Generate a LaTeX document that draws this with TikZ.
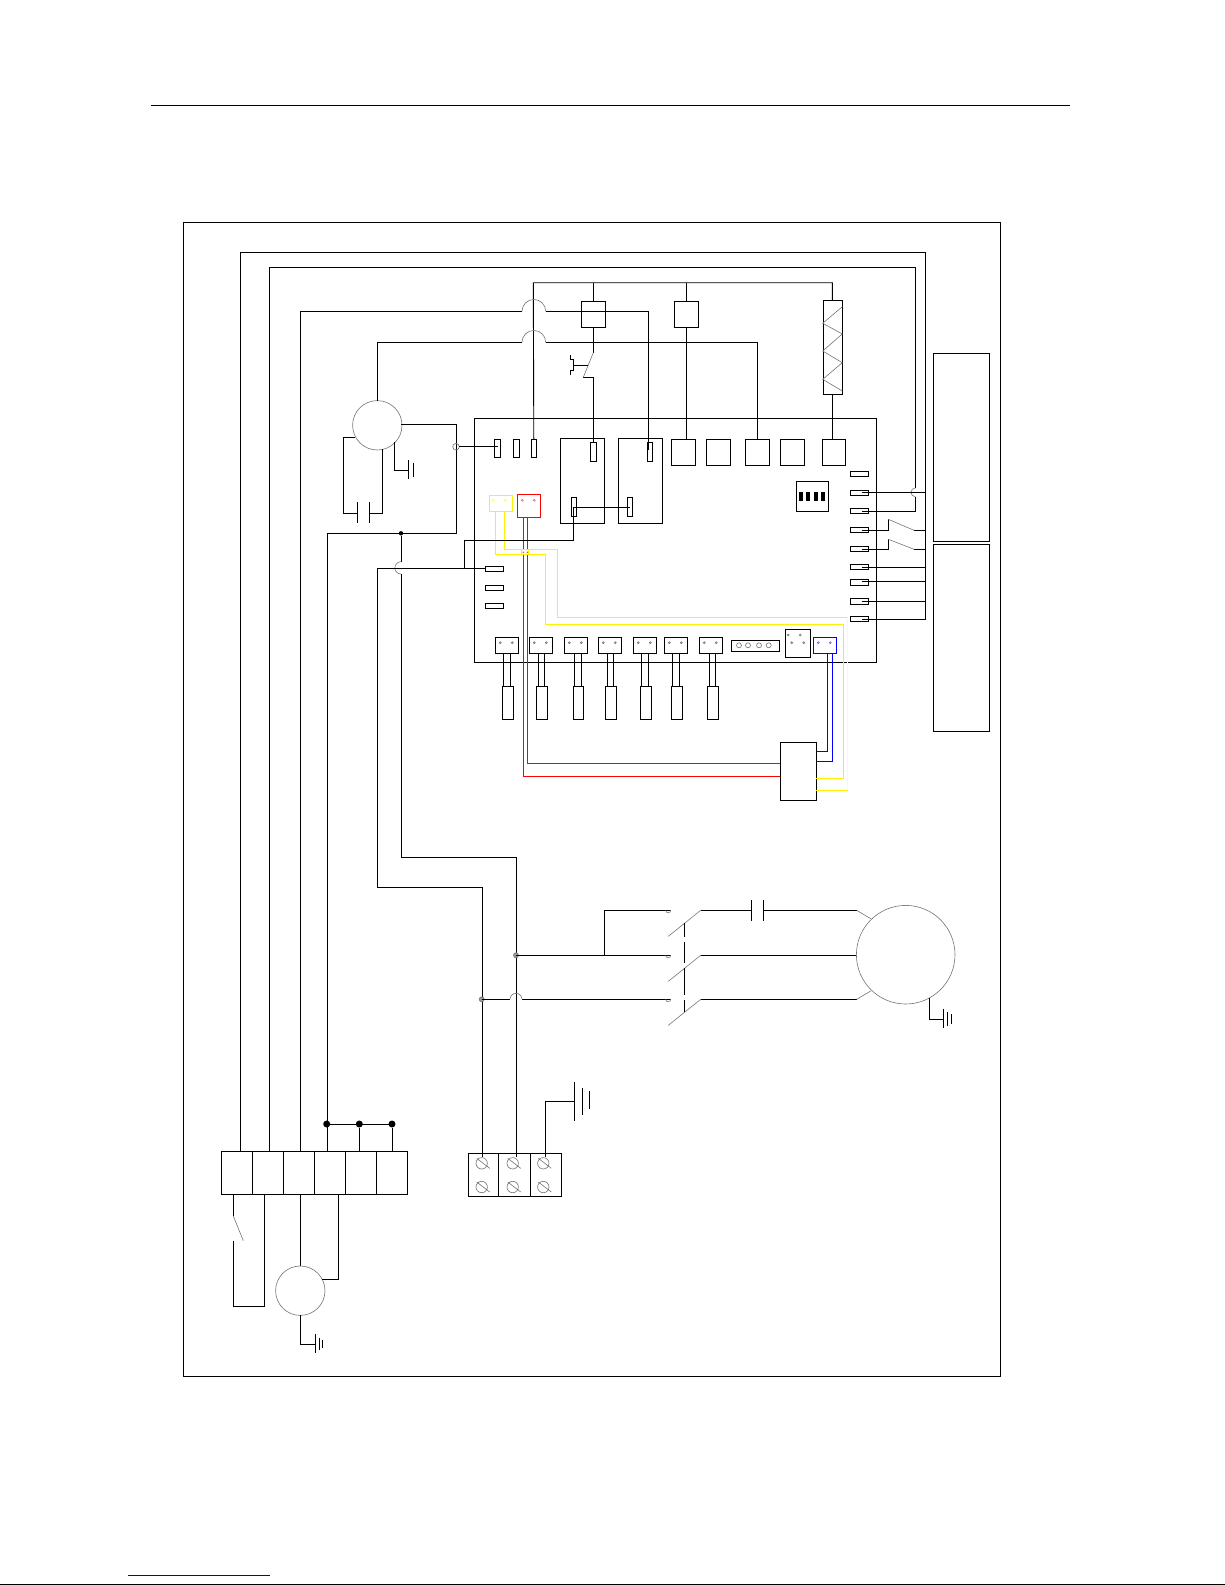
\documentclass[tikz,border=0pt]{standalone}
\begin{document}
\begin{tikzpicture}[x=1pt,y=-1pt,line width=.9pt,
	cell/.style={draw,rectangle,inner sep=0pt,outer sep=0pt},
	lamp/.style={draw=black!55,line width=.6pt,circle,inner sep=0pt,outer sep=0pt},
	thinw/.style={black!55,line width=.6pt},
	dotw/.style={fill=black,circle,inner sep=0pt,outer sep=0pt}]
	\useasboundingbox (0,0) rectangle (1225,1585);
	% page rules
	\path (151,105.3) coordinate (headL) (1070,105.3) coordinate (headR)
		(0,1584.3) coordinate (footL) (1225,1584.3) coordinate (footR)
		(128,1575.5) coordinate (linkL) (269.5,1575.5) coordinate (linkR);
	\draw (headL)--(headR) (footL)--(footR);
	\draw[blue!75!black] (linkL)--(linkR);
	% plain boxes
	\foreach \n/\l/\t/\r/\b in {frame/183.3/222.3/1000.3/1376.3, pcb/474.3/418.3/876.3/662.3,
		panA/933.3/353.3/989.7/541.3, panB/933.3/544.3/989.7/731.3,
		boxA/581.3/301.3/605.3/327.3, boxB/674.3/301.3/698.3/327.3, heat/823.3/300.3/842.3/394.3,
		relA/560.3/438.3/604.3/523.3, relB/618.3/438.3/662.3/523.3,
		pinA/494.3/439.3/500.7/457.3, pinB/513.3/439.3/519.7/457.3, pinC/531.3/439.3/536.3/457.3,
		pinD/590.3/442.3/596.3/461.3, pinE/647.3/442.3/652.7/461.3,
		pinF/571.3/497.3/576.7/516.3, pinG/627.3/497.3/632.7/516.3,
		headA/671.3/439.3/695.3/465.3, headB/706.3/439.3/730.3/465.3, headC/745.3/439.3/769.3/465.3,
		headD/780.3/439.3/804.3/465.3, headE/822.3/439.3/845.3/465.3, dip/796.3/481.3/828.3/511.3,
		rt1/850.3/471.3/868.5/476.3, rt2/850.3/490.3/868.5/495.3, rt3/850.3/508.3/868.5/513.3,
		rt4/850.3/527.3/868.5/532.3, rt5/850.3/546.3/868.5/551.3, rt6/850.3/564.3/868.5/569.3,
		rt7/850.3/579.3/868.5/585.3, rt8/850.3/598.3/868.5/604.3, rt9/850.3/616.3/868.5/621.3,
		lt1/485.3/566.3/503.3/571.3, lt2/485.3/585.3/503.3/590.3, lt3/485.3/603.3/503.3/608.3,
		strip/731.3/640.3/779.3/651.3, tall/785.3/629.3/810.3/657.3, relay/780.3/742.3/816.3/800.3,
		termA/221.3/1151.3/252.3/1194.3, termB/252.3/1151.3/283.3/1194.3, termC/283.3/1151.3/314.3/1194.3,
		termD/314.3/1151.3/345.3/1194.3, termE/345.3/1151.3/376.3/1194.3, termF/376.3/1151.3/407.3/1194.3,
		blkA/468/1153.3/498.3/1196, blkB/498.3/1153.3/530.3/1196, blkC/530.3/1153.3/561.3/1196}{
		\node[cell,minimum width={(\r-\l)*1pt},minimum height={(\b-\t)*1pt}] (\n) at ({(\l+\r)/2},{(\t+\b)/2}) {};
	}
	\foreach \l/\r in {799/802.7, 806.3/810, 814/817.7, 821/824.7}{
		\fill (\l,492) rectangle (\r,500.7);
	}
	\foreach \x in {739,748,759,768.7}{
		\draw[thinw] (\x,645.3) circle (2.5pt);
	}
	\foreach \x/\y in {788.3/635, 800.3/635, 791.7/642.7, 803.7/642.7}{
		\draw[thinw] (\x,\y) circle (1pt);
	}
	% probes and their sockets
	\foreach \n/\l/\a/\b/\c/\d in {1/495.3/503.3/510.3/502.3/513.3, 2/529.3/538.3/544.3/536.3/547.3,
		3/564.3/574.3/581.3/573.3/583.3, 4/598.3/607.3/613.3/605.3/616.3, 5/633.3/641.7/648.3/640.3/651.3,
		6/664.3/672.3/679.3/671.3/682.3, 7/699.3/709.3/715.3/707.3/718.3}{
		\node[cell,minimum width=23pt,minimum height=16pt] (sock\n) at ({\l+11.5},645.3) {};
		\node[cell,minimum width={(\d-\c)*1pt},minimum height=33pt] (prob\n) at ({(\c+\d)/2},702.8) {};
		\draw (\a,0 |- sock\n.south)--(\a,0 |- prob\n.north) (\b,0 |- sock\n.south)--(\b,0 |- prob\n.north);
		\draw[thinw] ({\l+5},642.7) circle (1pt) ({\l+17},642.7) circle (1pt);
	}
	% coloured plugs
	\node[cell,draw=yellow,minimum width=23pt,minimum height=16pt] (plugY) at (500.8,503.3) {};
	\node[cell,draw=red,minimum width=23pt,minimum height=23pt] (plugR) at (528.8,505.8) {};
	\node[cell,draw=blue,minimum width=23pt,minimum height=16pt] (plugB) at (824.8,645.3) {};
	\foreach \x/\y/\c in {493.3/500.3/yellow, 505.3/500.3/yellow, 522.3/500.3/red, 534.3/500.3/red,
		818.3/642.7/blue, 830.3/642.7/blue}{
		\draw[\c!60,line width=.6pt] (\x,\y) circle (1pt);
	}
	\draw[red] (523.3,0 |- plugR.south)--(523.3,776.3)--(relay.west |- 0,776.3)
		(527.3,0 |- plugR.south)--(527.3,763.3)--(relay.west |- 0,763.3);
	\draw[blue] (827.7,0 |- plugB.south)--(827.7,751.3)--(relay.east |- 0,751.3)
		(832.3,0 |- plugB.south)--(832.3,761.3)--(relay.east |- 0,761.3);
	\draw[yellow] (495.3,0 |- plugY.south)--(495.3,554.3)--(545.3,554.3)--(545.3,624.3)--(843.3,624.3)--(843.3,778.3)--(relay.east |- 0,778.3)
		(504.3,0 |- plugY.south)--(504.3,549.3)--(557.3,549.3)--(557.3,617.3)--(847.7,617.3);
	\draw[yellow!22] (847.7,617.3)--(847.7,790.3);
	\draw[yellow] (847.7,790.3)--(relay.east |- 0,790.3);
	\draw[yellow,fill=white,line width=.6pt] (521.7,549.3) rectangle (528.7,554.3);
	\fill[red!70] (522.7,551.5) rectangle (524,553) (526.7,551.5) rectangle (528,553);
	% top bus
	\path (533.3,282.7) coordinate (busL) (832.3,282.7) coordinate (busR);
	\draw (pinC.north)--(busL)--(busR)--(busR |- heat.north);
	\draw (boxA.north)--(boxA.north |- busL) (boxB.north)--(boxB.north |- busL);
	\draw (boxB.south)--(boxB.south |- headA.north) (busR |- heat.south)--(busR |- headE.north);
	\draw[thinw] (842.3,306.7)--(822.7,323.3)--(842.3,334)--(822.7,351)--(842.3,362.7)--(822.7,379.3)--(842.3,391);
	% door switch under boxA
	\draw (boxA.south)--(593.3,352.7) (583.3,377.3)--(593.3,377.3)--(pinD.north);
	\draw[thinw] (593.3,352.7)--(583.3,377.3);
	\draw (570,355)--(570,359.3)--(573.3,359.3)--(573.3,370.7)--(570,370.7)--(570,375) (573.3,365.3)--(588,365.3);
	% long wires with hops
	\draw (300.3,0 |- termC.north)--(300.3,311.3)--(522,311.3) (545.7,311.3)--(648.3,311.3)--(648.3,450);
	\draw[thinw] (522,311.3) arc[start angle=180,end angle=0,radius=11.85pt];
	\node[lamp,minimum size=49.4pt] (fan) at (377.3,425.3) {};
	\draw (fan.north)--(377.3,342.3)--(522,342.3) (545.7,342.3)--(757.3,342.3)--(headC.north -| 757.3,0);
	\draw[thinw] (522,342.3) arc[start angle=180,end angle=0,radius=11.85pt];
	\draw (240.3,0 |- termA.north)--(240.3,252.3)--(925.3,252.3)--(925.3,619.3)--(861.7,619.3);
	\draw (269.3,0 |- termB.north)--(269.3,267.3)--(915.3,267.3)--(915.3,488) (915.3,496.7)--(915.3,511)--(861.7,511);
	\draw[thinw] (915.3,488) arc[start angle=90,end angle=270,radius=4.35pt];
	\draw (861.7,492.3)--(925.3,492.3) (861.7,567)--(925.3,567) (861.7,581.3)--(925.3,581.3) (861.7,601.3)--(925.3,601.3);
	\draw (861.7,530)--(888.3,530)--(888.3,519.3) (914,530.3)--(925.3,530.3);
	\draw (861.7,549)--(888.3,549)--(888.3,539.3) (914,549.3)--(925.3,549.3);
	\draw[thinw] (888.3,519.3)--(914,530.3) (888.3,539.3)--(914,549.3);
	% fan
	\draw (401,424.3)--(456.3,424.3)--(456.3,533.3)--(327,533.3)--(327,0 |- termD.north);
	\node[dotw,minimum size=4.4pt] (nodeA) at (401,533.3) {};
	\draw (nodeA)--(401,561.7) (401,574)--(401,857.5)--(516.3,857.5)--(516.3,1157);
	\draw[thinw] (401,561.7) arc[start angle=90,end angle=270,radius=6.15pt];
	\draw[thinw] (456,446.7) circle (3.3pt);
	\draw (459.3,446.7)--(pinA.center |- 0,446.7);
	\draw (355,437.3)--(343.7,437.3)--(343.7,513.3)--(357.3,513.3) (357.3,502.3)--(357.3,523)
		(369.3,502.3)--(369.3,523) (369.3,513.3)--(382.3,513.3)--(382.3,449.3);
	\draw (394.7,441.7)--(394.7,470.3)--(408.3,470.3) (408.3,460)--(408.3,478.7) (413.3,462.7)--(413.3,476.7);
	% relays
	\draw (pinF.center |- 0,507.3)--(pinG.center |- 0,507.3) (573.3,507.3)--(573.3,540.3)--(464,540.3)--(464,568.3);
	\draw (lt1.west |- 0,568.3)--(377.3,568.3)--(377.3,887)--(482.3,887)--(482.3,1157);
	% compressor
	\node[lamp,minimum size=98.6pt] (comp) at (905.7,954.7) {};
	\path (516,955.3) coordinate (jctA) (481.7,999.3) coordinate (jctB);
	\draw[thinw,fill=black!40] (jctA) circle (2.5pt) (jctB) circle (2.5pt);
	\draw (jctA)--(670.7,955.3) (604.3,955.3)--(604.3,910.3)--(670.7,910.3);
	\draw (jctB)--(510,999.3) (522,999.3)--(670.7,999.3);
	\draw[thinw] (510,999.3) arc[start angle=180,end angle=0,radius=6pt];
	\foreach \y in {910.3,955.3,999.3}{
		\draw[thinw] (665.7,\y) arc[start angle=180,end angle=360,radius=2.5pt];
		\draw[thinw] (668.3,{\y+26})--(700.7,\y);
	}
	\draw (684.3,923.3)--(684.3,937.3) (684.3,941.7)--(684.3,963.3) (684.3,968.3)--(684.3,995) (684.3,1000)--(684.3,1012.3);
	\draw (700.7,910.3)--(751.7,910.3) (751.7,900)--(751.7,920.7) (763.3,900)--(763.3,920.7) (763.3,910.3)--(856.7,910.3);
	\draw (700.7,955.3)--(comp.west |- 0,955.3) (700.7,999.3)--(856.7,999.3);
	\draw[thinw] (856.7,910.3)--(870.7,918.7) (856.7,999.3)--(870.7,991);
	\draw (929.3,998.3)--(929.3,1019.3)--(943.3,1019.3) (943.3,1009.3)--(943.3,1028.3) (947.3,1012.3)--(947.3,1025.7) (951.3,1014.3)--(951.3,1024);
	% screw block
	\foreach \x in {481.7,512.7,543.3}{
		\foreach \y in {1163.3,1187}{
			\draw[thinw] (\x,\y) circle (5.7pt) ({\x-5},{\y-5})--({\x+8},{\y+5});
		}
	}
	\draw (545.3,1157)--(545.3,1101)--(574.3,1101) (574.3,1082.3)--(574.3,1120.7) (582.3,1088.3)--(582.3,1115) (589.3,1091.3)--(589.3,1109.3);
	% terminal row
	\node[dotw,minimum size=7pt] (bridgeA) at (326.7,1124) {};
	\node[dotw,minimum size=7pt] (bridgeB) at (359.3,1124) {};
	\node[dotw,minimum size=7pt] (bridgeC) at (392,1124) {};
	\draw (bridgeA)--(bridgeC) (bridgeB)--(bridgeB |- termE.north) (bridgeC)--(bridgeC |- termF.north);
	\draw (233.3,0 |- termA.south)--(233.3,1216) (233.3,1240.7)--(233.3,1306.3)--(264.3,1306.3)--(264.3,0 |- termB.south);
	\draw[thinw] (233.3,1216)--(243.3,1240.7);
	\node[lamp,minimum size=49.4pt] (pump) at (300.3,1290.7) {};
	\draw (300.3,0 |- termC.south)--(pump.north) (pump.south)--(300.3,1344.3)--(315.3,1344.3)
		(315.3,1334)--(315.3,1352.7) (319.3,1338)--(319.3,1350) (322.7,1340)--(322.7,1348.3);
	\draw (338.3,0 |- termD.south)--(338.3,1279.3)--(322.3,1279.3);
\end{tikzpicture}
\end{document}
